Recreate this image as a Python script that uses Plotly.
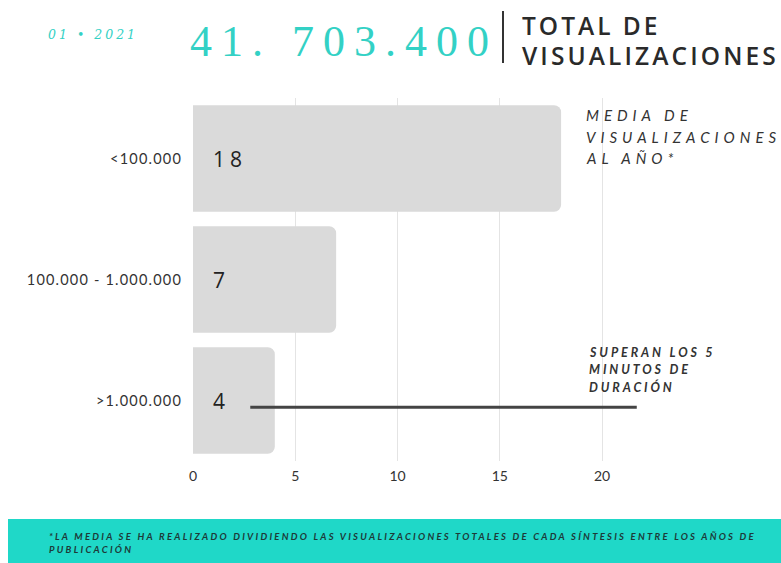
import json
import plotly.graph_objects as go

# ---- data ----
categories = ["<100.000", "100.000 - 1.000.000", ">1.000.000"]
values = [18, 7, 4]
x_ticks = [0, 5, 10, 15, 20]

header_date = "01 • 2021"
header_total = "41. 703.400"
header_title = ["TOTAL DE", "VISUALIZACIONES"]
media_note = ["MEDIA DE", "VISUALIZACIONES", "AL AÑO*"]
superan_note = ["SUPERAN LOS 5", "MINUTOS DE", "DURACIÓN"]
footer_lines = ["*LA MEDIA SE HA REALIZADO DIVIDIENDO LAS VISUALIZACIONES TOTALES DE CADA SÍNTESIS ENTRE LOS AÑOS DE",
                "PUBLICACIÓN"]
line_range = [2.8, 21.7]  # horizontal marker line over the last category

# ---- layout geometry ----
W, H = 781, 563
L, R, T, B = 193, 0, 98, 102
PW, PH = W - L - R, H - T - B
XMAX = PW / 20.45


def px(x):
    return (x - L) / PW


def py(y):
    return (H - B - y) / PH


TEAL = "#33d1c5"

spacing = []  # css letter-spacing per annotation index

fig = go.Figure()
fig.add_trace(go.Bar(
    y=categories, x=values, orientation="h",
    marker=dict(color="#dadada", line=dict(width=0)),
    hoverinfo="skip",
))

annotations = []
for cat, v in zip(categories, values):
    annotations.append(dict(x=0, y=cat, xref="x", yref="y", text=str(v), showarrow=False,
                            xanchor="left", xshift=18, yanchor="middle", align="left",
                            font=dict(family="Open Sans", size=21, color="#222")))
    spacing.append("5px")


def txt(x, y, text, family, size, color, sp, weight=None, style=None):
    font = dict(family=family, size=size, color=color)
    if weight:
        font["weight"] = weight
    if style:
        font["style"] = style
    annotations.append(dict(x=px(x), y=py(y), xref="paper", yref="paper", text=text,
                            showarrow=False, xanchor="left", yanchor="middle", align="left",
                            font=font))
    spacing.append(sp)


txt(46, 35, header_date, "DejaVu Serif", 12.5, TEAL, "3px", style="italic")
txt(188, 41, header_total, "Liberation Serif", 44, TEAL, "9px")
txt(520, 25, header_title[0], "Open Sans", 24.5, "#2a2a2a", "3px", weight=600)
txt(520, 55, header_title[1], "Open Sans", 24.5, "#2a2a2a", "3.1px", weight=600)
for i, t in enumerate(media_note):
    txt(584, 115 + 21.5 * i, t, "Lato", 15, "#333", "5px", style="italic")
for i, t in enumerate(superan_note):
    txt(587, 352 + 17.5 * i, t, "Lato", 12.5, "#333", "2.9px", weight=700, style="italic")
for i, t in enumerate(footer_lines):
    txt(47, 536 + 13 * i, t, "Lato", 9.5, "#1d3a38", "2.25px", weight=700, style="italic")

shapes = [
    dict(type="line", xref="x", yref="y", x0=line_range[0], x1=line_range[1],
         y0=categories[2], y1=categories[2], y0shift=0.055, y1shift=0.055,
         line=dict(color="#444", width=3), layer="above"),
    dict(type="line", xref="paper", yref="paper", x0=px(503), x1=px(503), y0=py(11), y1=py(63),
         line=dict(color="#333", width=2)),
    dict(type="rect", xref="paper", yref="paper", x0=px(8), x1=px(W + 5), y0=py(519), y1=py(H + 5),
         fillcolor="#1fd8c8", line=dict(width=0), layer="below"),
]

fig.update_layout(
    width=W, height=H,
    margin=dict(l=L, r=R, t=T, b=B, pad=0),
    paper_bgcolor="white", plot_bgcolor="white",
    showlegend=False,
    bargap=0.12,
    barcornerradius=7,
    annotations=annotations,
    shapes=shapes,
    xaxis=dict(range=[0, XMAX], tickvals=x_ticks, showgrid=True, gridcolor="#e4e4e4", gridwidth=1,
               zeroline=False, showline=False, ticks="", ticklabelstandoff=5,
               tickfont=dict(family="Lato", size=14, color="#333")),
    yaxis=dict(categoryorder="array", categoryarray=categories, autorange="reversed",
               showgrid=False, zeroline=False, showline=False, ticks="", ticklabelstandoff=10,
               tickfont=dict(family="Lato", size=14.5, color="#333")),
)

post = """
var gd = document.getElementById('{plot_id}');
var spec = %s;
function applySpacing() {
  gd.querySelectorAll('g.annotation').forEach(function (g) {
    var i = parseInt(g.getAttribute('data-index'), 10);
    var s = spec[i];
    var t = g.querySelector('.annotation-text');
    if (s && t) { t.style.letterSpacing = s; }
  });
  gd.querySelectorAll('.ytick text').forEach(function (t) {
    t.style.letterSpacing = '1.2px';
  });
}
applySpacing();
""" % json.dumps(spacing, ensure_ascii=False)

fig.write_html("out.html", post_script=post)
